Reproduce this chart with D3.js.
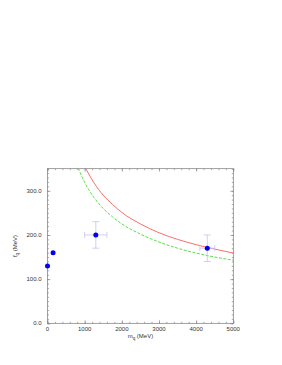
<!DOCTYPE html>
<html>
<head>
<meta charset="utf-8">
<script src="https://cdn.jsdelivr.net/npm/d3@7"></script>
<style>
  body { margin: 0; background: #fff; }
  svg text { font-family: "Liberation Sans", Arial, sans-serif; fill: #333; }
</style>
</head>
<body>
<svg id="chart" width="282" height="365"></svg>
<script>
// measured decay constants vs quark mass
var quarkMass  = [0, 150, 1300, 4300];
var decayConst = [130, 160, 200, 170];
var massErr    = [0, 0, 300, 200];
var constErr   = [0, 0, 30, 30];

// red solid curve
var redMass  = [1000, 1250, 1500, 1750, 2000, 2500, 3000, 3500, 4000, 4500, 5000];
var redConst = [355, 318, 290, 269, 251, 225, 205, 190, 178, 168, 159];

// green dashed curve
var greenMass  = [780, 1000, 1250, 1500, 1750, 2000, 2500, 3000, 3500, 4000, 4500, 5000];
var greenConst = [361, 319, 285, 260, 241, 225, 202, 184, 170, 159, 150, 143];

var xTicks = [0, 1000, 2000, 3000, 4000, 5000];
var yTicks = [0, 100, 200, 300];

var plotLeft = 47.5, plotRight = 233.3, plotTop = 168.7, plotBottom = 323.3;

var svg = d3.select("#chart");

var x = d3.scaleLinear().domain([0, 5000]).range([plotLeft, plotRight]);
var y = d3.scaleLinear().domain([0, 350]).range([plotBottom, plotTop]);

var axisColor = "#777";

//Ticks drawn inward on all four sides
function drawTicks(g, axisFn, scale, vals, len) {
    g.call(axisFn(scale).tickValues(vals).tickSize(len).tickFormat(""));
    g.select(".domain").remove();
    g.selectAll("line").attr("stroke", axisColor).attr("stroke-width", 0.6);
}

var xMinor = d3.range(0, 5001, 200);
var yMinor = d3.range(0, 351, 10);

[[d3.axisTop, plotBottom], [d3.axisBottom, plotTop]].forEach(function(d) {
    drawTicks(svg.append("g").attr("transform", "translate(0," + d[1] + ")"), d[0], x, xMinor, 1.5);
    drawTicks(svg.append("g").attr("transform", "translate(0," + d[1] + ")"), d[0], x, xTicks, 3);
});

[[d3.axisRight, plotLeft], [d3.axisLeft, plotRight]].forEach(function(d) {
    drawTicks(svg.append("g").attr("transform", "translate(" + d[1] + ",0)"), d[0], y, yMinor, 1.5);
    drawTicks(svg.append("g").attr("transform", "translate(" + d[1] + ",0)"), d[0], y, yTicks, 3);
});

//Frame
svg.append("rect")
    .attr("x", plotLeft).attr("y", plotTop)
    .attr("width", plotRight - plotLeft).attr("height", plotBottom - plotTop)
    .attr("fill", "none")
    .attr("stroke", axisColor)
    .attr("stroke-width", 0.7);

//Tick labels
svg.selectAll("text.xlab").data(xTicks).enter()
    .append("text")
    .attr("class", "xlab")
    .attr("x", function(d) { return x(d); })
    .attr("y", plotBottom + 7.5)
    .attr("text-anchor", "middle")
    .attr("font-size", 6)
    .text(function(d) { return d; });

svg.selectAll("text.ylab").data(yTicks).enter()
    .append("text")
    .attr("class", "ylab")
    .attr("x", plotLeft - 6)
    .attr("y", function(d) { return y(d) + 2; })
    .attr("text-anchor", "end")
    .attr("font-size", 6)
    .text(function(d) { return d.toFixed(1); });

//Axis titles
var xt = svg.append("text")
    .attr("x", (plotLeft + plotRight) / 2)
    .attr("y", plotBottom + 15)
    .attr("text-anchor", "middle")
    .attr("font-size", 6);
xt.append("tspan").text("m");
xt.append("tspan").attr("font-size", 4.5).attr("dy", 1.5).text("q");
xt.append("tspan").attr("dy", -1.5).text(" (MeV)");

var yt = svg.append("text")
    .attr("transform", "translate(17," + ((plotTop + plotBottom) / 2) + ") rotate(-90)")
    .attr("text-anchor", "middle")
    .attr("font-size", 6);
yt.append("tspan").text("f");
yt.append("tspan").attr("font-size", 4.5).attr("dy", 1.5).text("q");
yt.append("tspan").attr("dy", -1.5).text(" (MeV)");

//Curves
svg.append("clipPath").attr("id", "plotClip")
    .append("rect")
    .attr("x", plotLeft).attr("y", plotTop)
    .attr("width", plotRight - plotLeft).attr("height", plotBottom - plotTop);

var line = d3.line()
    .x(function(d) { return x(d[0]); })
    .y(function(d) { return y(d[1]); })
    .curve(d3.curveMonotoneX);

svg.append("path")
    .datum(d3.zip(redMass, redConst))
    .attr("clip-path", "url(#plotClip)")
    .attr("d", line)
    .attr("fill", "none")
    .attr("stroke", "#ff5a5a")
    .attr("stroke-width", 0.9);

svg.append("path")
    .datum(d3.zip(greenMass, greenConst))
    .attr("clip-path", "url(#plotClip)")
    .attr("d", line)
    .attr("fill", "none")
    .attr("stroke", "#44dd33")
    .attr("stroke-width", 0.9)
    .attr("stroke-dasharray", "3,1.5");

//Error bars
var points = quarkMass.map(function(m, i) {
    return {m: m, f: decayConst[i], dm: massErr[i], df: constErr[i]};
});

var errColor = "#c4c4ee";
var eb = svg.append("g").selectAll("g").data(points.filter(function(d) { return d.dm > 0; }))
    .enter().append("g")
    .attr("stroke", errColor)
    .attr("stroke-width", 0.8);

eb.append("line")
    .attr("x1", function(d) { return x(d.m - d.dm); })
    .attr("x2", function(d) { return x(d.m + d.dm); })
    .attr("y1", function(d) { return y(d.f); })
    .attr("y2", function(d) { return y(d.f); });
eb.append("line")
    .attr("x1", function(d) { return x(d.m); })
    .attr("x2", function(d) { return x(d.m); })
    .attr("y1", function(d) { return y(d.f - d.df); })
    .attr("y2", function(d) { return y(d.f + d.df); });
[-1, 1].forEach(function(s) {
    eb.append("line")
        .attr("x1", function(d) { return x(d.m) - 3.5; })
        .attr("x2", function(d) { return x(d.m) + 3.5; })
        .attr("y1", function(d) { return y(d.f + s * d.df); })
        .attr("y2", function(d) { return y(d.f + s * d.df); });
    eb.append("line")
        .attr("x1", function(d) { return x(d.m + s * d.dm); })
        .attr("x2", function(d) { return x(d.m + s * d.dm); })
        .attr("y1", function(d) { return y(d.f) - 3; })
        .attr("y2", function(d) { return y(d.f) + 3; });
});

//Points
svg.append("g").selectAll("circle").data(points).enter()
    .append("circle")
    .attr("cx", function(d) { return x(d.m); })
    .attr("cy", function(d) { return y(d.f); })
    .attr("r", 2.5)
    .attr("fill", "#0000ee");
</script>
</body>
</html>
